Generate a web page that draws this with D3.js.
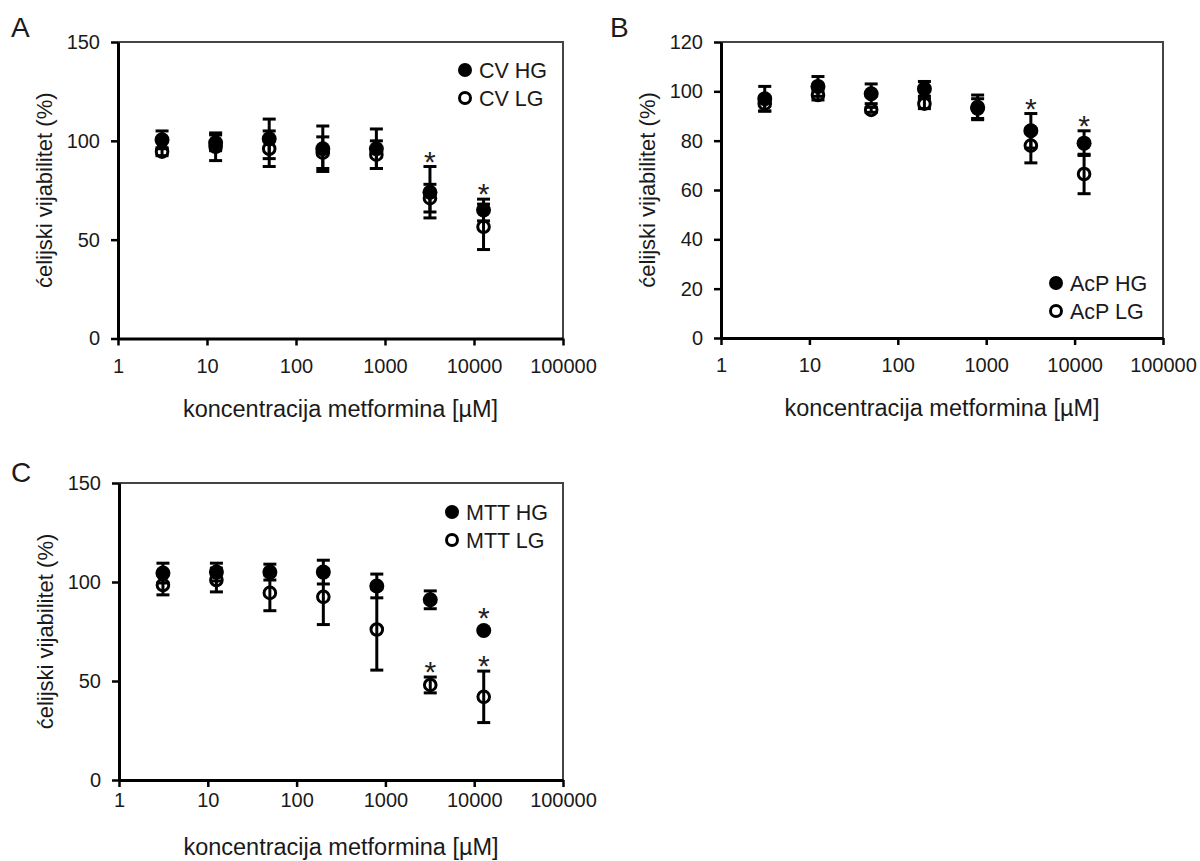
<!DOCTYPE html>
<html>
<head>
<meta charset="utf-8">
<script src="https://cdn.jsdelivr.net/npm/d3@7"></script>
<style>
  body { margin: 0; background: #fff; }
  svg { font-family: Arial, "Liberation Sans", sans-serif; }
  .axis path, .axis line { stroke: #000; }
  .axis text { fill: #1a1a1a; font-size: 20px; }
</style>
</head>
<body>
<div id="chart"></div>
<script>
// metformin concentrations (uM), 4-fold dilution
var concentrations = [3.125, 12.5, 50, 200, 800, 3200, 12800];
var xTicks = [1, 10, 100, 1000, 10000, 100000];

// panel A - crystal violet
var cvHG    = [100.5, 99, 101, 96, 96, 74, 65];
var cvHGErr = [4.5, 4, 10, 11.5, 10, 13, 5.5];
var cvLG    = [94.5, 97, 96, 94, 93, 71, 56.5];
var cvLGErr = [2, 7, 9, 8, 7, 7, 11.5];

// panel B - acid phosphatase
var acpHG    = [97, 102, 99, 101, 93.5, 84, 79];
var acpHGErr = [5, 4, 4, 3, 5, 7, 5];
var acpLG    = [95, 98.5, 92.5, 95, 93, 78, 66.5];
var acpLGErr = [3, 2, 1, 2, 4, 7, 8];

// panel C - MTT
var mttHG    = [104.5, 105, 105, 105, 98, 91, 75.5];
var mttHGErr = [5, 4.5, 4, 6, 6, 4.5, 1];
var mttLG    = [98.5, 101, 94.5, 92.5, 76, 48, 42];
var mttLGErr = [5, 6, 9, 14, 20.5, 4, 13];

var yTicksA = [0, 50, 100, 150];
var yTicksB = [0, 20, 40, 60, 80, 100, 120];

// significance stars (index into concentrations)
var starsA_HG = [5, 6], starsA_LG = [];
var starsB_HG = [5, 6], starsB_LG = [];
var starsC_HG = [6],    starsC_LG = [5, 6];

var xTitle = "koncentracija metformina [\u00b5M]";
var yTitle = "\u0107elijski vijabilitet (%)";

var svg = d3.select("#chart").append("svg")
    .attr("width", 1200)
    .attr("height", 861);

function zip(vals, errs) {
  return concentrations.map(function(c, i) {
    return {x: c, v: vals[i], e: errs[i], i: i};
  });
}

function drawPanel(p) {
  var x = d3.scaleLog().domain([1, 100000]).range([p.left, p.right]);
  var y = d3.scaleLinear().domain([0, p.yMax]).range([p.bottom, p.top]);
  var g = svg.append("g");

  // top and right frame
  g.append("path")
      .attr("d", "M" + p.left + "," + p.top + "H" + p.right + "V" + p.bottom)
      .attr("fill", "none")
      .attr("stroke", "#444")
      .attr("stroke-width", 2);

  g.append("g")
      .attr("class", "axis")
      .attr("transform", "translate(0," + p.bottom + ")")
      .call(d3.axisBottom(x)
        .tickValues(xTicks)
        .tickFormat(d3.format("d"))
        .tickSize(7)
        .tickSizeOuter(0)
        .tickPadding(p.xPad));

  g.append("g")
      .attr("class", "axis")
      .attr("transform", "translate(" + p.left + ",0)")
      .call(d3.axisLeft(y)
        .tickValues(p.yTicks)
        .tickSize(7)
        .tickSizeOuter(0)
        .tickPadding(11));

  g.selectAll(".axis path").attr("stroke-width", 3);
  g.selectAll(".axis line").attr("stroke-width", 2.5);

  g.append("text")
      .attr("x", (p.left + p.right) / 2)
      .attr("y", p.bottom + p.xTitleOff)
      .attr("text-anchor", "middle")
      .attr("font-size", 23.5)
      .attr("fill", "#1a1a1a")
      .text(xTitle);

  g.append("text")
      .attr("transform", "translate(" + (p.left - 66) + "," + ((p.top + p.bottom) / 2) + ") rotate(-90)")
      .attr("text-anchor", "middle")
      .attr("font-size", 22)
      .attr("fill", "#1a1a1a")
      .text(yTitle);

  g.append("text")
      .attr("x", p.labelX)
      .attr("y", p.labelY)
      .attr("font-size", 28)
      .attr("fill", "#1a1a1a")
      .text(p.label);

  var series = [
    {data: zip(p.lg, p.lgErr), filled: false, stars: p.lgStars},
    {data: zip(p.hg, p.hgErr), filled: true, stars: p.hgStars}
  ];

  // error bars
  series.forEach(function(s) {
    var eb = g.append("g").attr("stroke", "#000").attr("stroke-width", 3);
    eb.selectAll(".v")
        .data(s.data)
      .enter().append("line")
        .attr("x1", function(d) { return x(d.x); })
        .attr("x2", function(d) { return x(d.x); })
        .attr("y1", function(d) { return y(d.v - d.e); })
        .attr("y2", function(d) { return y(d.v + d.e); });
    [-1, 1].forEach(function(sign) {
      eb.selectAll(".cap" + sign)
          .data(s.data)
        .enter().append("line")
          .attr("x1", function(d) { return x(d.x) - 6.5; })
          .attr("x2", function(d) { return x(d.x) + 6.5; })
          .attr("y1", function(d) { return y(d.v + sign * d.e); })
          .attr("y2", function(d) { return y(d.v + sign * d.e); });
    });
  });

  // markers
  series.forEach(function(s) {
    g.append("g").selectAll("circle")
        .data(s.data)
      .enter().append("circle")
        .attr("cx", function(d) { return x(d.x); })
        .attr("cy", function(d) { return y(d.v); })
        .attr("r", s.filled ? 7.5 : 5.8)
        .attr("fill", s.filled ? "#000" : "none")
        .attr("stroke", "#000")
        .attr("stroke-width", s.filled ? 0 : 3);
  });

  // stars
  series.forEach(function(s) {
    g.append("g").selectAll("text")
        .data(s.data.filter(function(d) { return s.stars.indexOf(d.i) >= 0; }))
      .enter().append("text")
        .attr("x", function(d) { return x(d.x); })
        .attr("y", function(d) {
          var top = Math.min(y(d.v + d.e), y(d.v) - 7.5);
          return top - 12 + 17;
        })
        .attr("text-anchor", "middle")
        .attr("font-size", 30)
        .attr("fill", "#222")
        .text("*");
  });

  // legend
  var lg = g.append("g").attr("transform", "translate(" + p.legX + "," + p.legY + ")");
  lg.append("circle").attr("cx", 0).attr("cy", 0).attr("r", 7).attr("fill", "#000");
  lg.append("circle").attr("cx", 0).attr("cy", 28).attr("r", 5.5)
      .attr("fill", "none").attr("stroke", "#000").attr("stroke-width", 3);
  lg.append("text").attr("x", 14).attr("y", 7.5).attr("font-size", 21.5)
      .attr("fill", "#1a1a1a").text(p.names[0]);
  lg.append("text").attr("x", 14).attr("y", 35.5).attr("font-size", 21.5)
      .attr("fill", "#1a1a1a").text(p.names[1]);
}

drawPanel({
  label: "A", labelX: 11, labelY: 37,
  left: 118, right: 563, top: 42, bottom: 338.5, yMax: 150, yTicks: yTicksA,
  xPad: 13, xTitleOff: 78,
  hg: cvHG, hgErr: cvHGErr, lg: cvLG, lgErr: cvLGErr,
  hgStars: starsA_HG, lgStars: starsA_LG,
  names: ["CV HG", "CV LG"], legX: 465, legY: 70
});

drawPanel({
  label: "B", labelX: 610, labelY: 37,
  left: 721, right: 1163, top: 42, bottom: 338, yMax: 120, yTicks: yTicksB,
  xPad: 13, xTitleOff: 78,
  hg: acpHG, hgErr: acpHGErr, lg: acpLG, lgErr: acpLGErr,
  hgStars: starsB_HG, lgStars: starsB_LG,
  names: ["AcP HG", "AcP LG"], legX: 1056, legY: 283
});

drawPanel({
  label: "C", labelX: 11, labelY: 482,
  left: 119, right: 563, top: 483, bottom: 780, yMax: 150, yTicks: yTicksA,
  xPad: 6, xTitleOff: 75,
  hg: mttHG, hgErr: mttHGErr, lg: mttLG, lgErr: mttLGErr,
  hgStars: starsC_HG, lgStars: starsC_LG,
  names: ["MTT HG", "MTT LG"], legX: 452, legY: 512
});
</script>
</body>
</html>
